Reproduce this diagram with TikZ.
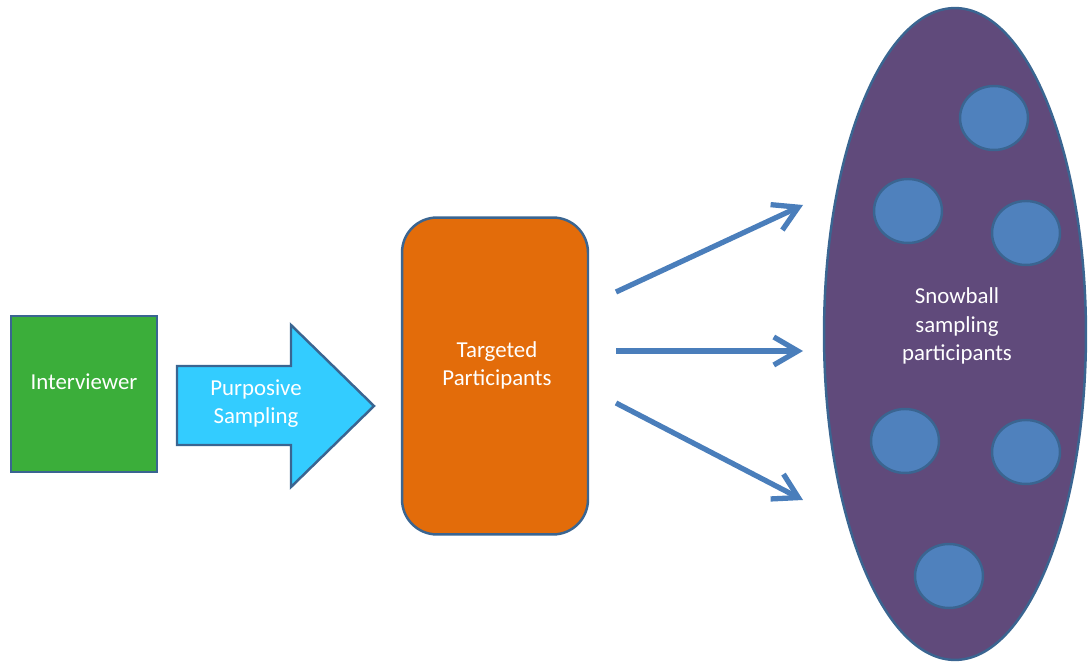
\documentclass[tikz,border=0pt]{standalone}
\usepackage{fontspec}
\setmainfont{Carlito}
\usetikzlibrary{arrows.meta, positioning, shapes.geometric}

\definecolor{outline}{HTML}{3A6591}
\definecolor{boxgreen}{HTML}{3BAE3A}
\definecolor{arrowcyan}{HTML}{33CCFF}
\definecolor{boxorange}{HTML}{E36C0A}
\definecolor{ballpurple}{HTML}{604A7B}
\definecolor{ballblue}{HTML}{4F81BD}
\definecolor{linkblue}{HTML}{4A7EBB}

\begin{document}
\begin{tikzpicture}[x=0.02cm, y=-0.02cm,
  lbl/.style={text=white, align=center, font=\fontsize{13}{16}\selectfont},
  shp/.style={draw=outline, line width=1.4pt},
  link/.style={linkblue, line width=3pt, -{Straight Barb[length=4.8mm, width=5.6mm]}},
  ball/.style={ellipse, shp, fill=ballblue, minimum width=1.36cm, minimum height=1.28cm, inner sep=0pt}]
\useasboundingbox (0,0) rectangle (1090,662);

% left part
\node[shp, fill=boxgreen, minimum width=2.92cm, minimum height=3.12cm, inner sep=0pt] (interviewer) at (84,394) {};
\node[lbl] (intlabel) at (84,382) {Interviewer};
\draw[shp, fill=arrowcyan, line join=miter] (177,366) -- (291,366) -- (291,325) -- (374,406)
  -- (291,487) -- (291,445) -- (177,445) -- cycle;
\node[lbl] (purplabel) at (256,404) {Purposive\\Sampling};

% middle box
\node[shp, fill=boxorange, rounded corners=0.7cm, minimum width=3.72cm, minimum height=6.34cm, inner sep=0pt] (targeted) at (495,376) {};
\node[lbl] (targlabel) at (497,365) {Targeted\\Participants};

% snowball group
\node[ellipse, shp, fill=ballpurple, minimum width=5.24cm, minimum height=13.04cm, inner sep=0pt] (snowball) at (955,334) {};
\node[lbl] (snowlabel) at (957,326) {Snowball\\sampling\\participants};
\node[ball] (b1) at (994,118) {};
\node[ball] (b2) at (908,211) {};
\node[ball] (b3) at (1026,233) {};
\node[ball] (b4) at (905,441) {};
\node[ball] (b5) at (1026,452) {};
\node[ball] (b6) at (949,576) {};

% arrows
\coordinate (s1) at (616,292);
\coordinate (s2) at (616,351);
\coordinate (s3) at (616,403);
\coordinate (e1) at (803,205);
\coordinate (e2) at (803,351);
\coordinate (e3) at (803,500);
\draw[link] (s1) -- (e1);
\draw[link] (s2) -- (e2);
\draw[link] (s3) -- (e3);
\end{tikzpicture}
\end{document}
